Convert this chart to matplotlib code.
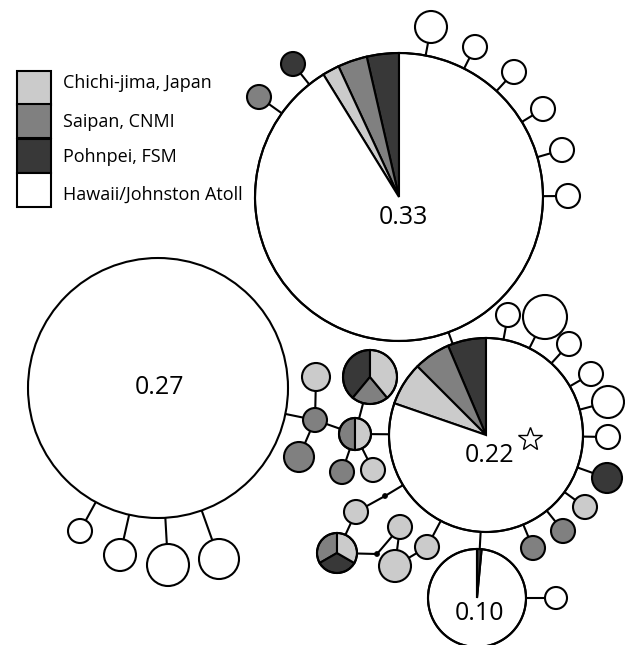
import matplotlib
matplotlib.use("Agg")
import matplotlib.pyplot as plt
from matplotlib.patches import Circle, Wedge, Rectangle

# regions (legend order) and their grey shades
regions = ["Chichi-jima, Japan", "Saipan, CNMI", "Pohnpei, FSM", "Hawaii/Johnston Atoll"]
shades = ["#cbcbcb", "#808080", "#383838", "#ffffff"]
LIGHT, MED, DARK, WHITE = 0, 1, 2, 3

# haplotype nodes: x, y, radius (pixel layout of the original network)
nodes = {
    "h1": (399, 197, 144), "h2": (158, 388, 130), "h3": (486, 435, 97), "h4": (477, 598, 49),
    # around h1
    "a1": (259, 97, 12), "a2": (293, 64, 12), "a3": (431, 27, 16), "a4": (475, 47, 12),
    "a5": (514, 72, 12), "a6": (543, 109, 12), "a7": (562, 150, 12), "a8": (568, 196, 12),
    # below h2
    "b1": (80, 531, 12), "b2": (120, 555, 16), "b3": (168, 565, 21), "b4": (219, 559, 20),
    # around h3
    "c1": (508, 315, 12), "c2": (545, 317, 22), "c3": (569, 344, 12), "c4": (591, 374, 12),
    "c5": (608, 402, 16), "c6": (608, 437, 12), "c7": (607, 478, 15), "c8": (585, 507, 12),
    "c9": (563, 531, 12), "c10": (533, 548, 12),
    # left cluster
    "d1": (355, 434, 16), "d2": (370, 377, 27), "d3": (315, 420, 12), "d4": (316, 377, 14),
    "d5": (299, 457, 15), "d6": (342, 472, 12), "d7": (373, 470, 12),
    # lower chain
    "e0": (385, 496, 2.5), "e1": (356, 512, 12), "e2": (337, 553, 20), "e3": (377, 554, 2.5),
    "e4": (400, 527, 12), "e5": (395, 566, 16), "e6": (427, 547, 12),
    # right of h4
    "f1": (556, 598, 11),
}

# composition: (region, fraction) counter-clockwise from the top
comp = {
    "h1": [(DARK, 0.036), (MED, 0.033), (LIGHT, 0.019), (WHITE, 0.912)],
    "h3": [(DARK, 0.064), (MED, 0.061), (LIGHT, 0.072), (WHITE, 0.803)],
    "h4": [(WHITE, 0.985), (DARK, 0.015)],
    "d1": [(MED, 0.5), (LIGHT, 0.5)],
    "d2": [(DARK, 0.39), (MED, 0.22), (LIGHT, 0.39)],
    "e2": [(MED, 1 / 3), (DARK, 1 / 3), (LIGHT, 1 / 3)],
}
single = {"a1": MED, "a2": DARK, "c7": DARK, "c8": LIGHT, "c9": MED, "c10": MED,
          "d3": MED, "d4": LIGHT, "d5": MED, "d6": MED, "d7": LIGHT,
          "e1": LIGHT, "e4": LIGHT, "e5": LIGHT, "e6": LIGHT}
dots = ["e0", "e3"]

edges = [("h1", "h3"), ("h3", "h4"), ("h4", "f1"), ("h2", "d3"),
         ("h1", "a1"), ("h1", "a2"), ("h1", "a3"), ("h1", "a4"), ("h1", "a5"),
         ("h1", "a6"), ("h1", "a7"), ("h1", "a8"),
         ("h2", "b1"), ("h2", "b2"), ("h2", "b3"), ("h2", "b4"),
         ("h3", "c1"), ("h3", "c2"), ("h3", "c3"), ("h3", "c4"), ("h3", "c5"),
         ("h3", "c6"), ("h3", "c7"), ("h3", "c8"), ("h3", "c9"), ("h3", "c10"),
         ("h3", "d1"), ("d1", "d2"), ("d1", "d3"), ("d3", "d4"), ("d3", "d5"),
         ("d1", "d6"), ("d1", "d7"),
         ("h3", "e0"), ("e0", "e1"), ("e1", "e2"), ("e2", "e3"), ("e3", "e4"),
         ("e4", "e5"), ("e5", "e6"), ("e6", "h3")]

hub_labels = {"h1": ("0.33", 403, 218), "h2": ("0.27", 160, 387),
              "h3": ("0.22", 490, 455), "h4": ("0.10", 479, 613)}
star_pos = (530, 439)

LW = 1.5
FONT = ["Open Sans", "DejaVu Sans"]

fig = plt.figure(figsize=(6.25, 6.45), dpi=100)
ax = fig.add_axes([0, 0, 1, 1])
ax.set_xlim(0, 625)
ax.set_ylim(645, 0)
ax.axis("off")

for a, b in edges:
    xa, ya, _ = nodes[a]
    xb, yb, _ = nodes[b]
    ax.plot([xa, xb], [ya, yb], color="black", lw=LW, zorder=1, solid_capstyle="butt")

for name, (x, y, r) in nodes.items():
    if name in dots:
        ax.add_patch(Circle((x, y), r, facecolor="black", edgecolor="black", lw=0.5, zorder=3))
        continue
    if name in comp:
        # y axis is inverted, so screen angles are negated
        start = 90.0
        for reg, frac in comp[name]:
            end = start + frac * 360
            ax.add_patch(Wedge((x, y), r, -end, -start, facecolor=shades[reg],
                               edgecolor="black", lw=LW, zorder=2))
            start = end
        ax.add_patch(Circle((x, y), r, facecolor="none", edgecolor="black", lw=LW, zorder=2.5))
    else:
        fc = shades[single.get(name, WHITE)]
        ax.add_patch(Circle((x, y), r, facecolor=fc, edgecolor="black", lw=LW, zorder=2))

for name, (txt, x, y) in hub_labels.items():
    ax.text(x, y, txt, fontsize=18, family=FONT, ha="center", va="center", zorder=4)
ax.plot(*star_pos, marker="*", markersize=18, markerfacecolor="white",
        markeredgecolor="black", markeredgewidth=1, zorder=4)

# legend
box_top = [71, 104, 139, 173]
text_base = [88, 127, 162, 200]
for i, label in enumerate(regions):
    y0 = box_top[i]
    ax.add_patch(Rectangle((17, y0), 34, 34, facecolor=shades[i], edgecolor="black",
                           lw=LW, zorder=2))
    ax.text(63, text_base[i], label, fontsize=13, family=FONT, ha="left", va="baseline")

fig.savefig("out.png", dpi=100)
